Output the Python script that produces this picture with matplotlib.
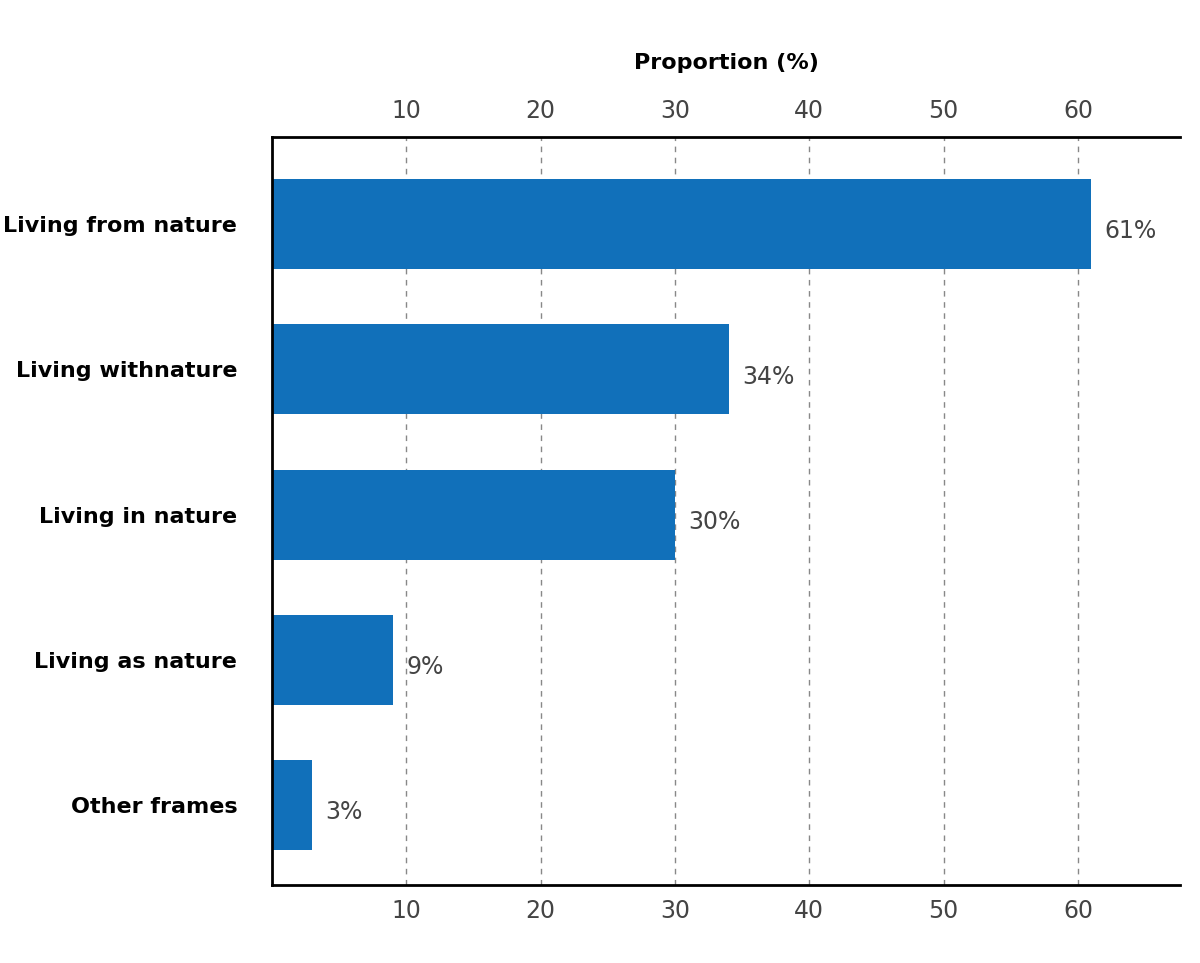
import matplotlib.pyplot as plt

categories = ["Living from nature", "Living withnature", "Living in nature",
              "Living as nature", "Other frames"]
values = [61, 34, 30, 9, 3]
ticks = [10, 20, 30, 40, 50, 60]

fig = plt.figure(figsize=(12, 9.63), dpi=100)
ax = fig.add_axes([272 / 1200, 1 - 885 / 963, (1180 - 272) / 1200, (885 - 137) / 963])

ypos = list(range(len(categories)))
ax.barh(ypos, values, height=0.62, color="#1170BA", zorder=2)
for y, v in zip(ypos, values):
    ax.text(v + 1.0, y + 0.05, f"{v}%", va="center", ha="left",
            fontsize=17, color="#444444")

ax.set_ylim(len(categories) - 0.45, -0.6)
ax.set_xlim(0, 67.6)
ax.set_yticks(ypos)
ax.set_yticklabels(categories, fontsize=16, fontweight="bold")
ax.tick_params(axis="y", length=0, pad=25)

ax.set_xticks(ticks)
ax.tick_params(axis="x", length=0, labelsize=17, labelcolor="#444444",
               top=True, labeltop=True, bottom=True, labelbottom=True, pad=10)
ax.grid(axis="x", linestyle=(0, (4, 4)), color="#888888", linewidth=1, zorder=1)

ax.set_xlabel("Proportion (%)", fontsize=16, fontweight="bold", labelpad=22)
ax.xaxis.set_label_position("top")

ax.spines["right"].set_visible(False)
for s in ["top", "bottom", "left"]:
    ax.spines[s].set_linewidth(2)

fig.savefig("out.png", dpi=100)
